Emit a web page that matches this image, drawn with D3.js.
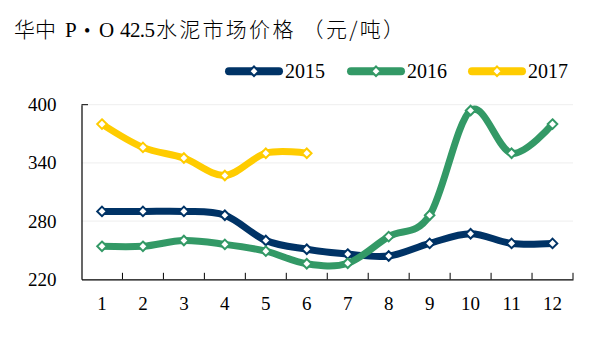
<!DOCTYPE html>
<html>
<head>
<meta charset="utf-8">
<script src="https://cdn.jsdelivr.net/npm/d3@7"></script>
<style>
  html, body { margin: 0; padding: 0; background: #fff; }
  svg { display: block; }
  text { font-family: "Liberation Serif", "Times New Roman", "Noto Sans CJK SC", serif; fill: #000; }
</style>
</head>
<body>
<svg id="chart" width="593" height="340"></svg>
<script>
// Monthly price of P·O 42.5 cement in central China (yuan/ton)
const months = ["1","2","3","4","5","6","7","8","9","10","11","12"];
const seriesNames = ["2015", "2016", "2017"];
const values2015 = [290, 290, 290, 286, 260, 251, 246, 244, 257, 267, 257, 257];
const values2016 = [254, 254, 260, 256, 249, 236, 236.5, 264, 286, 394, 350, 380];
const values2017 = [380, 356, 345, 327, 350, 350];
const yTicks = [220, 280, 340, 400];
const colors = ["#003366", "#339966", "#FFCC00"];

const svg = d3.select("#chart");
const margin = { left: 81.5, right: 20, top: 104.7, bottom: 60.7 };
const W = 593, H = 340;

const x = d3.scaleBand().domain(months).range([margin.left, W - margin.right]).paddingInner(0).paddingOuter(0);
const y = d3.scaleLinear().domain([220, 400]).range([H - margin.bottom, margin.top]);

// title: Chinese in CJK face, the grade "P • O 42.5" in serif
const cjk = "'Noto Sans CJK SC', sans-serif";
const title = svg.append("g").attr("transform", "translate(0,37)");
title.append("text").attr("x", 14).style("font-size", "21px").style("font-family", cjk).style("font-weight", 300).text("华中");
title.append("text").attr("x", 65).style("font-size", "21px").text("P");
title.append("text").attr("x", 84).style("font-size", "18px").text("•");
title.append("text").attr("x", 99).style("font-size", "21px").text("O");
title.append("text").attr("x", 120).style("font-size", "21px").attr("textLength", 35).text("42.5");
title.append("text").attr("x", 156)
  .style("font-size", "21px").style("font-family", cjk).style("font-weight", 300)
  .attr("textLength", 248).attr("lengthAdjust", "spacing")
  .text("水泥市场价格 （元/吨）");

// gridlines
svg.append("g").selectAll("line")
  .data(yTicks.filter(d => d > 220))
  .join("line")
  .attr("x1", margin.left).attr("x2", W - margin.right)
  .attr("y1", d => y(d)).attr("y2", d => y(d))
  .attr("stroke", "#eeeeee").attr("stroke-width", 1);

// y axis
const yAxis = svg.append("g")
  .attr("transform", `translate(${margin.left},0)`)
  .call(d3.axisLeft(y).tickValues(yTicks).tickSize(0).tickPadding(0));
yAxis.select(".domain").attr("stroke", "#000").attr("stroke-width", 1.2);
yAxis.selectAll("text")
  .attr("x", -25)
  .style("font-size", "19px")
  .style("font-family", "'Liberation Serif', serif");
// short inward tick at the top of the axis
yAxis.append("line")
  .attr("x1", 0).attr("x2", 6.5)
  .attr("y1", y(400)).attr("y2", y(400))
  .attr("stroke", "#000").attr("stroke-width", 1);

// x axis with inward ticks at band boundaries
const xAxis = svg.append("g")
  .attr("transform", `translate(0,${y(220)})`)
  .call(d3.axisBottom(x).tickSize(0).tickPadding(0));
xAxis.select(".domain").attr("stroke", "#000").attr("stroke-width", 1.2);
xAxis.selectAll("text")
  .attr("y", 31)
  .attr("dy", "0")
  .style("font-size", "19px")
  .style("font-family", "'Liberation Serif', serif");
xAxis.selectAll(".bound")
  .data(months)
  .join("line")
  .attr("class", "bound")
  .attr("x1", d => x(d) + x.bandwidth()).attr("x2", d => x(d) + x.bandwidth())
  .attr("y1", 0).attr("y2", -6.5)
  .attr("stroke", "#000").attr("stroke-width", 1);

// series lines
const allSeries = [values2015, values2016, values2017];
const line = d3.line()
  .x((d, i) => x(months[i]) + x.bandwidth() / 2)
  .y(d => y(d))
  .curve(d3.curveCatmullRom.alpha(0));

const diamond = d3.symbol().type(d3.symbolDiamond2).size(58);

allSeries.forEach((vals, si) => {
  const g = svg.append("g");
  g.append("path")
    .datum(vals)
    .attr("d", line)
    .attr("fill", "none")
    .attr("stroke", colors[si])
    .attr("stroke-width", 7)
    .attr("stroke-linecap", "round")
    .attr("stroke-linejoin", "round");
  g.selectAll("path.m")
    .data(vals)
    .join("path")
    .attr("class", "m")
    .attr("d", diamond)
    .attr("transform", (d, i) => `translate(${x(months[i]) + x.bandwidth() / 2},${y(d)})`)
    .attr("fill", "#fff")
    .attr("stroke", colors[si])
    .attr("stroke-width", 2);
});

// legend
const legendX = [225, 347, 468];
const legend = svg.append("g");
seriesNames.forEach((name, i) => {
  const lx = legendX[i], ly = 71.3;
  legend.append("line")
    .attr("x1", lx + 4).attr("x2", lx + 54)
    .attr("y1", ly).attr("y2", ly)
    .attr("stroke", colors[i]).attr("stroke-width", 8)
    .attr("stroke-linecap", "round");
  legend.append("path")
    .attr("d", diamond)
    .attr("transform", `translate(${lx + 29},${ly})`)
    .attr("fill", "#fff").attr("stroke", colors[i]).attr("stroke-width", 2);
  legend.append("text")
    .attr("x", lx + 60).attr("y", ly + 6.5)
    .style("font-size", "20px")
    .text(name);
});
</script>
</body>
</html>
